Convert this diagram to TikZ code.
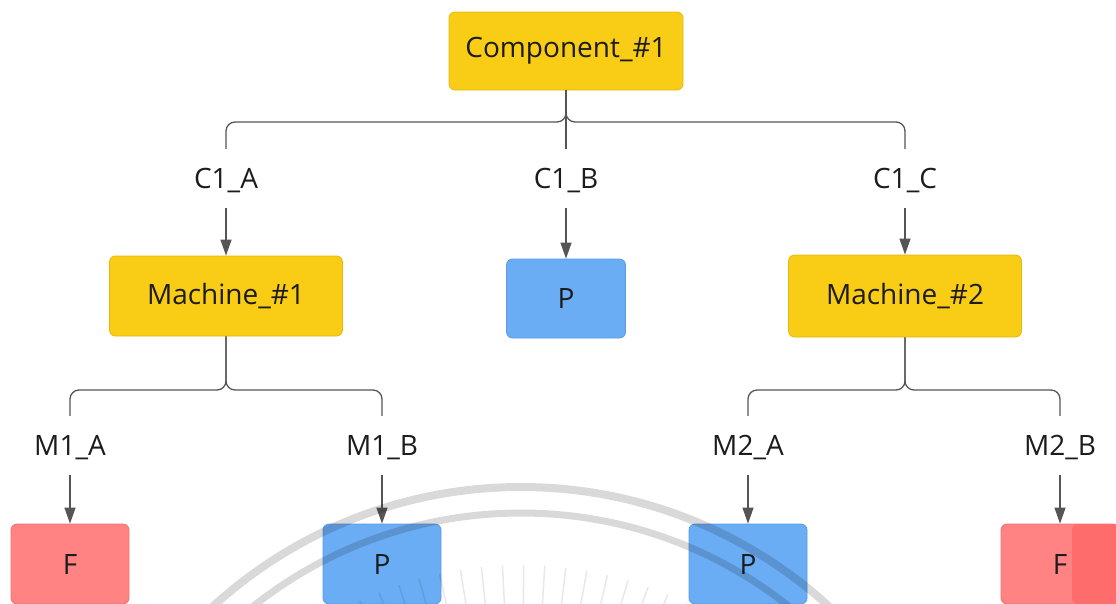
\documentclass[tikz,border=0pt]{standalone}
\usepackage{fontspec}
\newfontfamily\diagfont{Open Sans}
\usetikzlibrary{arrows.meta}

\definecolor{boxyellow}{HTML}{F9CC16}
\definecolor{edgeyellow}{HTML}{E6B80C}
\definecolor{boxblue}{HTML}{6AADF4}
\definecolor{edgeblue}{HTML}{5A9BE4}
\definecolor{boxred}{HTML}{FF8383}
\definecolor{boxredB}{HTML}{FF6C6C}
\definecolor{edgered}{HTML}{EE7272}
\definecolor{wire}{HTML}{555555}
\definecolor{ink}{HTML}{1C1C1C}

\begin{document}
\begin{tikzpicture}[x=1pt,y=-1pt,
  every node/.style={font=\diagfont\fontsize{28}{31}\selectfont, text=ink},
  card/.style={rounded corners=6pt, line width=0.8pt, inner sep=0pt},
  machine/.style={card, fill=boxyellow, draw=edgeyellow, minimum width=233pt, minimum height=80pt},
  pass/.style={card, fill=boxblue, draw=edgeblue, minimum width=118pt, minimum height=80pt},
  fail/.style={card, fill=boxred, draw=edgered, minimum width=118pt, minimum height=80pt},
  tag/.style={inner xsep=0pt, inner ysep=20pt, text height=19pt, text depth=0pt, anchor=base},
  wireline/.style={draw=wire, line width=1.3pt},
  branch/.style={wireline, rounded corners=9pt},
  feed/.style={wireline, -{Triangle[length=16pt,width=11pt]}},
  seal/.style={draw=black, draw opacity=0.15}
]
\useasboundingbox (0,0) rectangle (1116,603);

% ---- top level
\node[machine, minimum width=234pt, minimum height=78pt] (comp) at (566,51) {Component\_\#1};

\node[tag] (c1a) at (226,188) {C1\_A};
\node[tag] (c1b) at (566,188) {C1\_B};
\node[tag] (c1c) at (905,188) {C1\_C};

\node[machine] (m1) at (226,296) {Machine\_\#1};
\node[pass, minimum width=119pt, minimum height=79pt] (pb) at (566,298.5) {P};
\node[machine, minimum height=82pt] (m2) at (905,296) {Machine\_\#2};

% ---- machine outcomes
\node[tag] (m1a) at (70,455) {M1\_A};
\node[tag] (m1b) at (382,455) {M1\_B};
\node[tag] (m2a) at (748,455) {M2\_A};
\node[tag] (m2b) at (1060,455) {M2\_B};

\node[fail] (fa) at (70,564) {F};
\node[pass] (pm1) at (382,564) {P};
\node[pass] (pm2) at (748,564) {P};
\node[fail, path picture={\fill[boxredB] ([xshift=12pt]path picture bounding box.north) rectangle (path picture bounding box.south east);}] (fb) at (1060,564) {F};

% ---- connectors
\coordinate (bus1) at (0,122);
\coordinate (bus2) at (0,390);

\draw[branch] (comp.south) -- (comp.south |- bus1) -| (c1a.north);
\draw[branch] (comp.south) -- (comp.south |- bus1) -| (c1c.north);
\draw[wireline] (comp.south) -- (c1b.north);

\draw[feed] (c1a.south) -- (m1.north);
\draw[feed] (c1b.south) -- (pb.north);
\draw[feed] (c1c.south) -- (m2.north);

\draw[branch] (m1.south) -- (m1.south |- bus2) -| (m1a.north);
\draw[branch] (m1.south) -- (m1.south |- bus2) -| (m1b.north);
\draw[branch] (m2.south) -- (m2.south |- bus2) -| (m2a.north);
\draw[branch] (m2.south) -- (m2.south |- bus2) -| (m2b.north);

\draw[feed] (m1a.south) -- (fa.north);
\draw[feed] (m1b.south) -- (pm1.north);
\draw[feed] (m2a.south) -- (pm2.north);
\draw[feed] (m2b.south) -- (fb.north);

% ---- faint seal in the background
\begin{scope}
  \clip (0,0) rectangle (1116,603);
  \coordinate (sealc) at (521,944);
  \draw[seal, line width=8pt] (sealc) circle[radius=457pt];
  \draw[seal, line width=7pt] (sealc) circle[radius=431pt];
  \foreach \a in {64,67.2,...,116}
    \draw[draw=black, draw opacity=0.09, line width=1.5pt]
      ([shift={(\a:330pt)}]sealc) -- ([shift={(\a:379pt)}]sealc);
\end{scope}
\end{tikzpicture}
\end{document}
